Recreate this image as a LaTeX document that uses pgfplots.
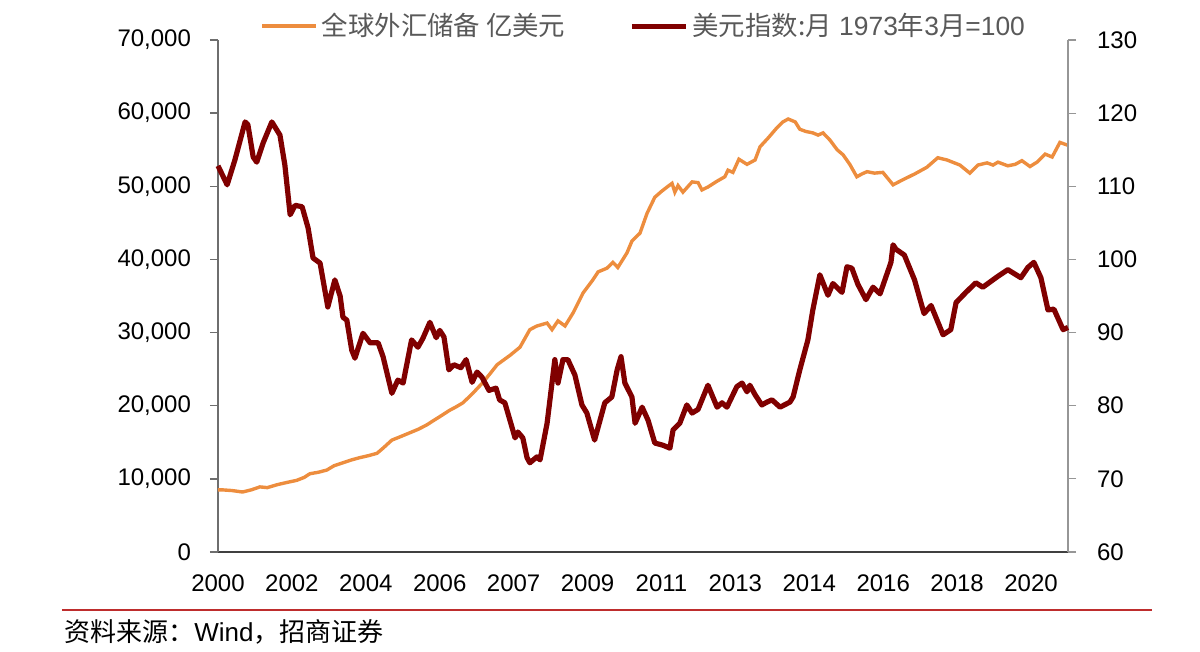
\documentclass[border=0pt]{standalone}
\usepackage{fontspec}
\setmainfont{Liberation Sans}
\newfontfamily\cjk{Noto Sans CJK SC}
\usepackage{pgfplots}
\pgfplotsset{compat=1.18}

\definecolor{resv}{RGB}{237,141,62}
\definecolor{dxy}{RGB}{128,0,0}
\definecolor{srcred}{RGB}{190,45,45}
\definecolor{legtxt}{RGB}{89,89,89}

% x = months since Oct 2000
\pgfplotsset{
  base/.style={
    scale only axis,
    width=425pt, height=256pt,
    at={(0,0)}, anchor=south west,
    xmin=0, xmax=241.5,
    xtick={0,21,...,231},
    xticklabels={2000,2002,2004,2006,2007,2009,2011,2013,2014,2016,2018,2020},
    xtick style={draw=none},
    tick align=outside,
    major tick length=4pt,
    tick label style={font=\fontsize{12}{14}\selectfont, text=black},
    yticklabel style={/pgf/number format/1000 sep={,},
                      /pgf/number format/assume math mode=true},
    scaled y ticks=false,
    clip=false,
  }
}

\begin{document}
\begin{tikzpicture}
\path[use as bounding box] (-109pt,-50pt) rectangle (491pt,276pt);

\begin{axis}[base,
  ymin=0, ymax=70000,
  ytick={0,10000,...,70000},
  axis y line*=left, axis x line*=bottom,
  x axis line style={-, line width=1.1pt, draw={rgb,255:red,64;green,64;blue,64}},
  y axis line style={-, line width=0.7pt, draw={rgb,255:red,110;green,110;blue,110}},
  ytick style={line width=0.7pt, draw={rgb,255:red,110;green,110;blue,110}},
  xticklabel style={yshift=-4pt},
  yticklabel style={xshift=-6pt},
  legend columns=2,
  legend style={at={(0.502,1.027)}, anchor=center, draw=none, fill=none,
    font=\fontsize{13.2}{15}\selectfont, text=legtxt,
    /tikz/every even column/.append style={column sep=30pt}},
  legend image code/.code={\draw[#1] (0pt,0pt) -- (27pt,0pt);},
]
%global fx reserves, 100 mn USD
\addplot[resv, line width=1.7pt] coordinates {
(0,8500) (1.1,8500) (4,8400) (7,8200) (9.5,8500) (11.9,8900) (14,8800)
(16.8,9200) (19.5,9500) (22.4,9800) (24.5,10200) (26.1,10700) (28.5,10900)
(30.9,11200) (33,11800) (35.5,12200) (38,12600) (40.3,12900) (43,13200)
(45.2,13500) (46.9,14200) (49.4,15300) (52,15800) (54.5,16300) (57,16800)
(59.4,17400) (61,17900) (63,18500) (65.9,19400) (67.5,19800) (69.6,20400)
(72.4,21700) (75.3,23200) (77.5,24500) (79.3,25600) (81,26200) (83,26900)
(85.8,28000) (88.6,30400) (90.6,30900) (93.5,31300) (94.9,30400) (96.6,31600)
(98.6,30900) (100.9,32700) (103.7,35400) (106.5,37200) (108,38300)
(110.5,38800) (112.2,39600) (113.6,38900) (116.2,40900) (117.6,42500)
(119.9,43600) (121.9,46300) (124.1,48500) (126,49300) (127.6,49900)
(129,50400) (129.8,49200) (130.7,50100) (132.1,49200) (134.7,50600)
(136.4,50500) (137.5,49500) (139.2,49900) (141.8,50700) (144,51300)
(144.9,52200) (146.3,51900) (148,53700) (150.3,53000) (152.6,53600)
(154,55400) (156.3,56600) (158.8,58000) (160.5,58800) (162,59200)
(164,58800) (165.3,57800) (167,57500) (169,57300) (170.5,57000)
(171.9,57300) (173.9,56300) (175.9,55000) (177.6,54300) (179.5,53000)
(181.5,51300) (183,51700) (184.4,52000) (186.5,51800) (188.9,51900)
(191.8,50200) (194.6,50900) (198,51700) (201.4,52600) (204.5,53900)
(207.1,53600) (210.8,52900) (213.6,51800) (215.9,52900) (218.5,53200)
(220.2,52900) (221.6,53300) (224.4,52800) (226.5,53000) (228.4,53500)
(230.7,52700) (232.7,53300) (235,54400) (237,54000) (239.2,56000)
(241.5,55600)
};
\addlegendentry{{\cjk 全球外汇储备 亿美元}}
\addlegendimage{dxy, line width=2.6pt}
\addlegendentry{{\cjk 美元指数:月} 1973{\cjk 年}3{\cjk 月}=100}
\end{axis}

\begin{axis}[base,
  ymin=60, ymax=130,
  ytick={60,70,...,130},
  axis y line*=right, axis x line=none,
  y axis line style={-, line width=0.6pt, draw={rgb,255:red,150;green,150;blue,150}},
  ytick style={line width=0.6pt, draw={rgb,255:red,150;green,150;blue,150}},
  yticklabel style={xshift=7pt},
]
%dollar index, March 1973 = 100
\addplot[dxy, line width=2.6pt, line join=round] coordinates {
(0,112.8) (1.3,111.5) (2.6,110.2) (4.8,113.6) (7.7,118.8) (8.5,118.4)
(10,114) (11,113.3) (12.8,115.9) (15.3,118.8) (17.6,117) (19,112.9)
(20.5,106.1) (21.9,107.4) (23.9,107.2) (25.6,104.3) (27,100.2) (29,99.5)
(31.2,93.5) (33.2,97.2) (34.7,95) (35.5,92.1) (36.6,91.7) (38,87.6)
(38.9,86.5) (41.2,89.9) (43.2,88.6) (45.5,88.6) (46.9,86.7) (49.4,81.7)
(51.1,83.5) (52.6,83.1) (55,89) (56.8,88) (58.2,89.2) (60.2,91.4)
(62,89.3) (63,90.3) (64.2,89.4) (65.6,84.9) (67,85.6) (69,85.2)
(70.5,86.3) (72.2,83.2) (73.6,84.6) (75,83.9) (77,82.1) (79,82.4)
(80,80.8) (81.5,80.4) (83.5,77.1) (84.4,75.6) (85.2,76.4) (86.6,75.6)
(87.8,72.9) (88.6,72.2) (90.6,73) (91.5,72.6) (93.5,77.6) (95.7,86.3)
(96.6,83.1) (98,86.3) (99.4,86.3) (101.4,84.2) (103.4,80.1) (104.8,79)
(107,75.3) (109.9,80.4) (111.9,81.2) (113.4,84.9) (114.5,86.7)
(115.6,83.1) (117.6,81.2) (118.5,77.6) (120.5,79.8) (122.2,78)
(124.1,74.9) (126.4,74.6) (128.4,74.2) (129.3,76.7) (131.2,77.6)
(133.2,80.1) (134.7,79) (136.4,79.5) (139.2,82.8) (141.8,79.8)
(143.2,80.4) (144.6,79.8) (147.4,82.6) (148.9,83.1) (150.3,81.9)
(151.1,82.8) (152.6,81.5) (154.5,80.1) (156,80.5) (157.4,80.8)
(159.7,79.8) (162.5,80.5) (163.4,81.2) (165.3,84.9) (167.6,89)
(169,93.1) (171,97.9) (173.3,95.1) (174.7,96.7) (177.3,95.5) (178.7,99)
(180.1,98.8) (181.8,96.6) (184.1,94.5) (186.1,96.2) (188.1,95.3)
(191.2,99.6) (191.8,102) (192.6,101.4) (195,100.6) (197.9,97.2)
(200.6,92.6) (202.6,93.7) (206,89.7) (208.2,90.4) (209.7,94.1)
(212.5,95.5) (215.3,96.8) (217.3,96.2) (221.6,97.7) (224.4,98.6)
(228.1,97.5) (230.1,98.9) (231.8,99.6) (233.8,97.5) (235.8,93.1)
(237.5,93.2) (240.1,90.4) (241.5,90.7)
};
\end{axis}

\draw[srcred, line width=1pt] (-78pt,-29pt) -- (467pt,-29pt);
\node[anchor=west, inner sep=0pt, font=\fontsize{13}{15}\selectfont]
  at (-77pt,-40pt) {{\cjk 资料来源：}Wind{\cjk ，招商证券}};
\end{tikzpicture}
\end{document}
